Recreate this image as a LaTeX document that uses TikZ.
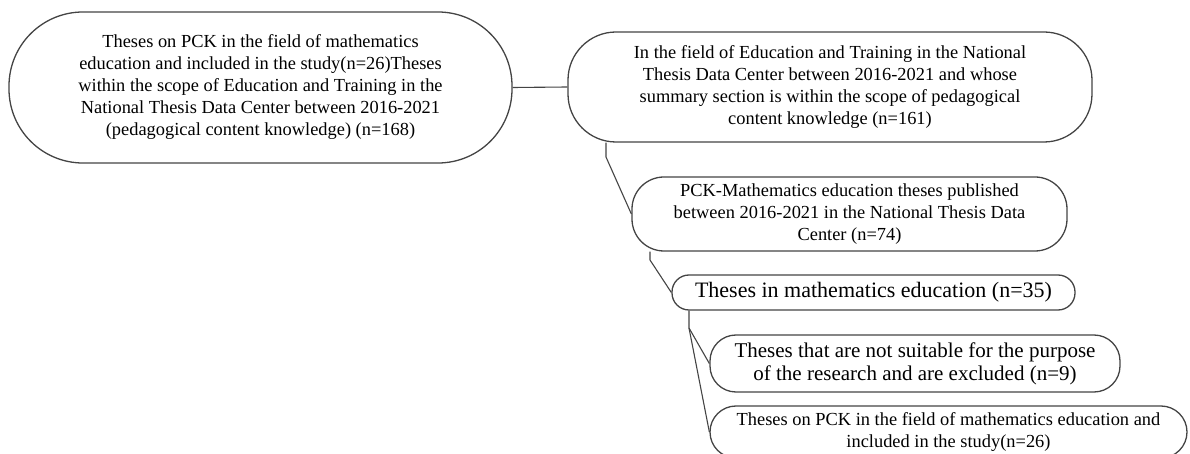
\documentclass[tikz,border=0pt]{standalone}
\usepackage{fontspec}
\setmainfont{Liberation Serif}
\usepackage{xcolor}
\definecolor{lineGray}{HTML}{444444}
\usetikzlibrary{positioning, calc}

\begin{document}
\begin{tikzpicture}[x=0.5pt, y=-0.5pt,
    stagebox/.style={draw=lineGray, line width=0.65pt, align=center, inner sep=0pt},
    smalltext/.style={font=\fontsize{9.2}{11}\selectfont},
    largetext/.style={font=\fontsize{10.5}{11.5}\selectfont}]
    \useasboundingbox (0,0) rectangle (1190,454);
    % Stages of the thesis selection, sizes taken from the layout.
    \node[stagebox, smalltext, rounded corners=37pt, minimum width=251.5pt, minimum height=75.5pt]
        (thesesAll) at (260.5,87.5)
        {Theses on PCK in the field of mathematics\\
         education and included in the study(n=26)Theses\\
         within the scope of Education and Training in the\\
         National Thesis Data Center between 2016-2021\\
         (pedagogical content knowledge) (n=168)};
    \node[stagebox, smalltext, rounded corners=24pt, minimum width=262pt, minimum height=55pt]
        (fieldEdu) at (830,87)
        {In the field of Education and Training in the National\\
         Thesis Data Center between 2016-2021 and whose\\
         summary section is within the scope of pedagogical\\
         content knowledge (n=161)};
    \node[stagebox, smalltext, rounded corners=16pt, minimum width=217.5pt, minimum height=37pt]
        (pckMath) at (849.5,214)
        {PCK-Mathematics education theses published\\
         between 2016-2021 in the National Thesis Data\\
         Center (n=74)};
    \node[stagebox, font=\fontsize{11}{13}\selectfont, rounded corners=8.5pt, minimum width=201.5pt, minimum height=17.5pt]
        (mathEdu) at (873.5,292.5)
        {Theses in mathematics education (n=35)};
    \node[stagebox, largetext, rounded corners=13pt, minimum width=205pt, minimum height=28.5pt]
        (excluded) at (915,363.5)
        {Theses that are not suitable for the purpose\\
         of the research and are excluded (n=9)};
    \node[stagebox, smalltext, rounded corners=13pt, minimum width=238.5pt, minimum height=26pt]
        (included) at (948.5,432)
        {Theses on PCK in the field of mathematics education and\\
         included in the study(n=26)};
    % Bend points of the tree connectors
    \coordinate (bendB) at (606,157);
    \coordinate (bendC) at (650,260);
    \coordinate (bendD) at (689,328);
    \draw[lineGray, line width=0.55pt] (thesesAll.east) -- (fieldEdu.west);
    \draw[lineGray, line width=0.55pt] (fieldEdu.south west -| bendB) -- (bendB) -- (pckMath.west);
    \draw[lineGray, line width=0.55pt] (pckMath.south west -| bendC) -- (bendC) -- (mathEdu.west);
    \draw[lineGray, line width=0.55pt] (mathEdu.south west -| bendD) -- (bendD) -- (excluded.west);
    \draw[lineGray, line width=0.55pt] (bendD) -- (included.west);
\end{tikzpicture}
\end{document}
